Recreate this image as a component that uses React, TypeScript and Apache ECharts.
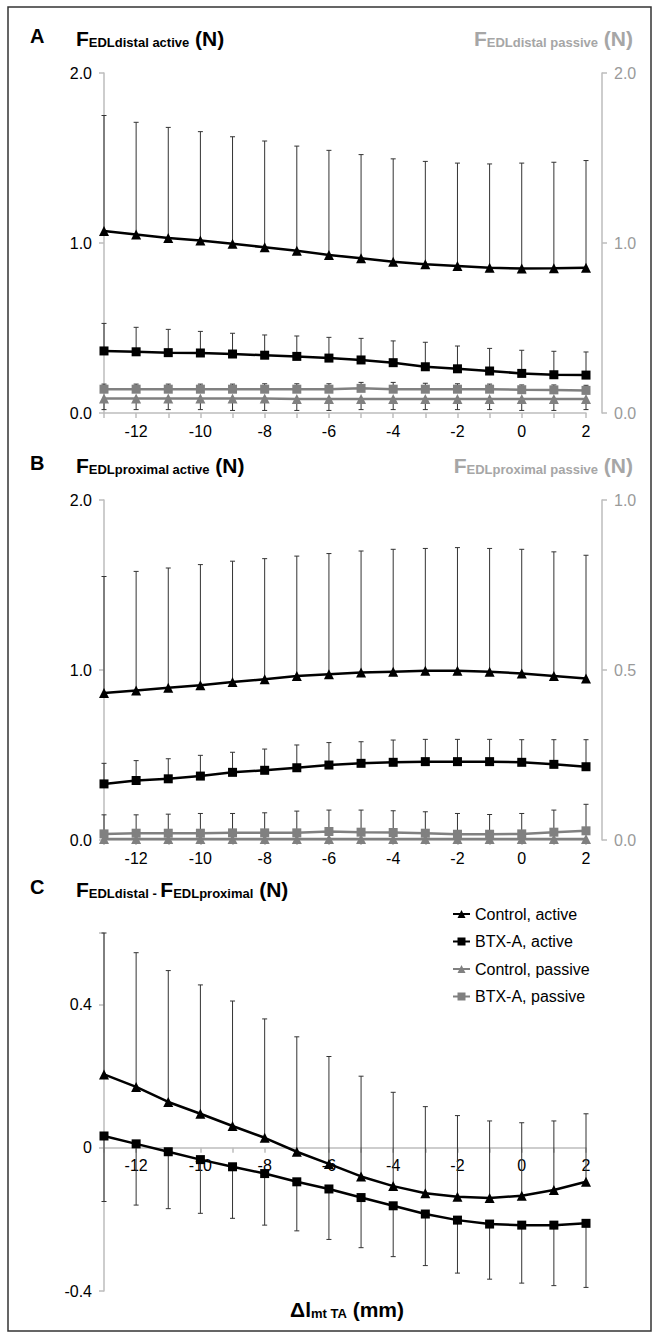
import React, { useEffect, useRef } from "react";
import * as echarts from "echarts";

// ---------- data ----------
const xValues = [-13, -12, -11, -10, -9, -8, -7, -6, -5, -4, -3, -2, -1, 0, 1, 2];
const xTickLabels = [-12, -10, -8, -6, -4, -2, 0, 2];
const legendNames = ["Control, active", "BTX-A, active", "Control, passive", "BTX-A, passive"];

// Panel A : F EDL distal
const aControlActive = [1.07, 1.05, 1.03, 1.015, 0.995, 0.975, 0.955, 0.93, 0.91, 0.89, 0.875, 0.865, 0.855, 0.85, 0.852, 0.855];
const aControlActiveUpper = [1.75, 1.71, 1.68, 1.655, 1.625, 1.6, 1.57, 1.545, 1.52, 1.495, 1.48, 1.47, 1.465, 1.47, 1.475, 1.485];
const aBtxActive = [0.365, 0.36, 0.355, 0.353, 0.347, 0.34, 0.333, 0.323, 0.312, 0.296, 0.272, 0.26, 0.247, 0.233, 0.225, 0.223];
const aBtxActiveUpper = [0.527, 0.504, 0.492, 0.48, 0.469, 0.459, 0.453, 0.445, 0.439, 0.424, 0.416, 0.394, 0.38, 0.369, 0.363, 0.359];
const aControlPassive = [0.085, 0.085, 0.085, 0.085, 0.085, 0.085, 0.083, 0.083, 0.083, 0.083, 0.083, 0.083, 0.083, 0.083, 0.083, 0.083];
const aControlPassiveLower = [0.02, 0.02, 0.02, 0.02, 0.015, 0.015, 0.015, 0.015, 0.02, 0.02, 0.02, 0.02, 0.02, 0.015, 0.015, 0.02];
const aBtxPassive = [0.14, 0.14, 0.14, 0.14, 0.14, 0.14, 0.14, 0.14, 0.145, 0.14, 0.14, 0.14, 0.14, 0.137, 0.136, 0.133];
const aBtxPassiveUpper = [0.17, 0.17, 0.17, 0.17, 0.17, 0.172, 0.172, 0.172, 0.18, 0.18, 0.175, 0.172, 0.17, 0.165, 0.165, 0.163];
const aLeftTicks = [0, 1, 2];
const aRightTicks = [0, 1, 2];

// Panel B : F EDL proximal
const bControlActive = [0.865, 0.88, 0.895, 0.91, 0.93, 0.945, 0.965, 0.975, 0.985, 0.99, 0.995, 0.995, 0.99, 0.98, 0.965, 0.95];
const bControlActiveUpper = [1.55, 1.58, 1.6, 1.62, 1.64, 1.655, 1.67, 1.685, 1.7, 1.71, 1.715, 1.72, 1.715, 1.71, 1.695, 1.675];
const bBtxActive = [0.33, 0.35, 0.36, 0.376, 0.398, 0.41, 0.425, 0.441, 0.451, 0.457, 0.461, 0.461, 0.461, 0.457, 0.445, 0.431];
const bBtxActiveUpper = [0.451, 0.467, 0.478, 0.498, 0.516, 0.535, 0.559, 0.573, 0.578, 0.588, 0.592, 0.592, 0.592, 0.59, 0.59, 0.59];
const bControlPassive = [0.003, 0.003, 0.003, 0.003, 0.003, 0.003, 0.003, 0.003, 0.003, 0.003, 0.003, 0.003, 0.003, 0.003, 0.003, 0.003];
const bBtxPassive = [0.018, 0.02, 0.02, 0.02, 0.021, 0.021, 0.021, 0.025, 0.023, 0.022, 0.02, 0.017, 0.017, 0.018, 0.023, 0.027];
const bBtxPassiveUpper = [0.074, 0.074, 0.076, 0.078, 0.078, 0.08, 0.085, 0.088, 0.088, 0.086, 0.083, 0.078, 0.075, 0.078, 0.088, 0.105];
const bLeftTicks = [0, 1, 2];
const bRightTicks = [0, 0.5, 1];

// Panel C : F EDL distal - F EDL proximal
const cControlActive = [0.205, 0.17, 0.128, 0.095, 0.061, 0.028, -0.011, -0.045, -0.08, -0.107, -0.127, -0.137, -0.14, -0.134, -0.118, -0.095];
const cControlActiveUpper = [0.6, 0.545, 0.495, 0.455, 0.41, 0.36, 0.31, 0.255, 0.2, 0.155, 0.115, 0.09, 0.075, 0.07, 0.075, 0.095];
const cBtxActive = [0.033, 0.011, -0.011, -0.033, -0.053, -0.072, -0.095, -0.115, -0.139, -0.162, -0.185, -0.202, -0.213, -0.216, -0.216, -0.211];
const cBtxActiveLower = [-0.15, -0.16, -0.17, -0.183, -0.197, -0.216, -0.232, -0.256, -0.279, -0.304, -0.329, -0.35, -0.367, -0.378, -0.385, -0.39];
const cTicks = [-0.4, 0, 0.4];
const cMin = -0.4;
const cMax = 0.6;

// ---------- styling ----------
const SANS = '"Liberation Sans", Arial, Helvetica, sans-serif';
const AXIS_GRAY = "#bdbdbd";
const BLACK = "#000000";
const GRAY = "#808080";
const ERR = "#333333";
const C_TOP = 933;
const C_HEIGHT = 358;

function errRender(params: any, api: any) {
  const x = api.value(0);
  const p0 = api.coord([x, api.value(1)]);
  const p1 = api.coord([x, api.value(2)]);
  const st = { stroke: ERR, lineWidth: 1 };
  return {
    type: "group",
    children: [
      { type: "line", shape: { x1: p0[0], y1: p0[1], x2: p1[0], y2: p1[1] }, style: st },
      { type: "line", shape: { x1: p1[0] - 2.5, y1: p1[1], x2: p1[0] + 2.5, y2: p1[1] }, style: st },
    ],
  };
}

function lineSeries(name: string, xi: number, yi: number, values: number[], color: string, symbol: string) {
  return {
    type: "line",
    name,
    xAxisIndex: xi,
    yAxisIndex: yi,
    data: xValues.map((x, i) => [x, values[i]]),
    symbol,
    symbolSize: symbol === "triangle" ? 10 : 9,
    lineStyle: { color, width: 2.5 },
    itemStyle: { color },
    z: 3,
  };
}

function errSeries(xi: number, yi: number, base: number[], end: number[]) {
  return {
    type: "custom",
    xAxisIndex: xi,
    yAxisIndex: yi,
    data: xValues.map((x, i) => [x, base[i], end[i]]),
    encode: { x: 0, y: [1, 2] },
    renderItem: errRender,
    silent: true,
    z: 2,
  };
}

function xAxis(gi: number, offset: number) {
  return {
    type: "value",
    gridIndex: gi,
    position: "bottom",
    offset,
    min: -13,
    max: 2,
    interval: 1,
    axisLine: { show: true, onZero: false, lineStyle: { color: AXIS_GRAY, width: 1.5 } },
    axisTick: { show: true, length: 5, lineStyle: { color: AXIS_GRAY, width: 1.5 } },
    axisLabel: {
      margin: 10,
      color: BLACK,
      fontSize: 16,
      fontFamily: SANS,
      formatter: (v: number) => (xTickLabels.indexOf(Math.round(v)) >= 0 ? String(Math.round(v)) : ""),
    },
    splitLine: { show: false },
  };
}

function yAxis(gi: number, position: string, min: number, max: number, interval: number, ticks: number[], color: string, fmt: (v: number) => string, offset = 0) {
  return {
    type: "value",
    gridIndex: gi,
    position,
    offset,
    min,
    max,
    interval,
    axisLine: { show: true, onZero: false, lineStyle: { color: AXIS_GRAY, width: 1.5 } },
    axisTick: { show: true, length: 5, lineStyle: { color: AXIS_GRAY, width: 1.5 } },
    axisLabel: {
      margin: 12,
      color,
      fontSize: 16,
      fontFamily: SANS,
      formatter: (v: number) => (ticks.some((t) => Math.abs(t - v) < 1e-9) ? fmt(v) : ""),
    },
    splitLine: { show: false },
  };
}

function richStyle(color: string) {
  return {
    b: { fontSize: 21, fontWeight: "bold", fontFamily: SANS, fill: color, lineHeight: 26, verticalAlign: "bottom" },
    s: { fontSize: 13, fontWeight: "bold", fontFamily: SANS, fill: color, lineHeight: 12, verticalAlign: "bottom" },
  };
}

function titleText(text: string, x: number, y: number, color: string, align = "left") {
  return {
    type: "text",
    x,
    y,
    silent: true,
    style: { text, align, verticalAlign: "middle", rich: richStyle(color), fill: color },
  };
}

function letter(t: string, y: number) {
  return {
    type: "text",
    x: 30,
    y,
    silent: true,
    style: { text: t, font: `bold 20px ${SANS}`, fill: BLACK, align: "left", verticalAlign: "middle" },
  };
}

const f1 = (v: number) => v.toFixed(1);
const fC = (v: number) => (Math.abs(v) < 1e-9 ? "0" : v.toFixed(1));

export default function App() {
  const ref = useRef<HTMLDivElement>(null);
  useEffect(() => {
    if (!ref.current) return;
    const chart = echarts.init(ref.current, undefined, { renderer: "svg" });
    // place panel C's x axis on the zero line (distance from grid bottom to y = 0)
    const zeroOffset = -(C_HEIGHT * (0 - cMin)) / (cMax - cMin);
    const option: any = {
      animation: false,
      backgroundColor: "#ffffff",
      grid: [
        { left: 104, width: 482, top: 73, height: 340 },
        { left: 104, width: 482, top: 500, height: 340 },
        { left: 104, width: 482, top: C_TOP, height: C_HEIGHT },
      ],
      xAxis: [xAxis(0, 0), xAxis(1, 0), xAxis(2, zeroOffset)],
      yAxis: [
        yAxis(0, "left", 0, 2, 1, aLeftTicks, BLACK, f1),
        yAxis(0, "right", 0, 2, 1, aRightTicks, "#9a9a9a", f1, 16),
        yAxis(1, "left", 0, 2, 1, bLeftTicks, BLACK, f1),
        yAxis(1, "right", 0, 1, 0.5, bRightTicks, "#9a9a9a", f1, 16),
        yAxis(2, "left", cMin, cMax, 0.4, cTicks, BLACK, fC),
      ],
      legend: {
        data: legendNames,
        orient: "vertical",
        left: 447,
        top: 900,
        itemWidth: 17,
        itemHeight: 10,
        itemGap: 9.5,
        selectedMode: false,
        textStyle: { fontSize: 16, color: BLACK, fontFamily: SANS, lineHeight: 18 },
      },
      series: [
        // Panel A
        errSeries(0, 0, aControlActive, aControlActiveUpper),
        errSeries(0, 0, aBtxActive, aBtxActiveUpper),
        errSeries(0, 1, aControlPassive, aControlPassiveLower),
        errSeries(0, 1, aBtxPassive, aBtxPassiveUpper),
        lineSeries("Control, passive", 0, 1, aControlPassive, GRAY, "triangle"),
        lineSeries("BTX-A, passive", 0, 1, aBtxPassive, GRAY, "rect"),
        lineSeries("Control, active", 0, 0, aControlActive, BLACK, "triangle"),
        lineSeries("BTX-A, active", 0, 0, aBtxActive, BLACK, "rect"),
        // Panel B
        errSeries(1, 2, bControlActive, bControlActiveUpper),
        errSeries(1, 2, bBtxActive, bBtxActiveUpper),
        errSeries(1, 3, bBtxPassive, bBtxPassiveUpper),
        lineSeries("Control, passive", 1, 3, bControlPassive, GRAY, "triangle"),
        lineSeries("BTX-A, passive", 1, 3, bBtxPassive, GRAY, "rect"),
        lineSeries("Control, active", 1, 2, bControlActive, BLACK, "triangle"),
        lineSeries("BTX-A, active", 1, 2, bBtxActive, BLACK, "rect"),
        // Panel C
        errSeries(2, 4, cControlActive, cControlActiveUpper),
        errSeries(2, 4, cBtxActive, cBtxActiveLower),
        lineSeries("Control, active", 2, 4, cControlActive, BLACK, "triangle"),
        lineSeries("BTX-A, active", 2, 4, cBtxActive, BLACK, "rect"),
      ],
      graphic: [
        {
          type: "rect",
          silent: true,
          shape: { x: 8, y: 7, width: 643, height: 1324 },
          style: { fill: "none", stroke: "#333333", lineWidth: 1.5 },
        },
        letter("A", 36),
        titleText("{b|F}{s|EDLdistal active}{b| (N)}", 76, 36, BLACK),
        titleText("{b|F}{s|EDLdistal passive}{b| (N)}", 633, 36, "#a6a6a6", "right"),
        letter("B", 463),
        titleText("{b|F}{s|EDLproximal active}{b| (N)}", 76, 463, BLACK),
        titleText("{b|F}{s|EDLproximal passive}{b| (N)}", 633, 463, "#a6a6a6", "right"),
        letter("C", 887),
        titleText("{b|F}{s|EDLdistal - }{b|F}{s|EDLproximal}{b| (N)}", 76, 887, BLACK),
        titleText("{b|Δl}{s|mt TA}{b| (mm)}", 347, 1307, BLACK, "center"),
      ],
    };
    chart.setOption(option);
    return () => chart.dispose();
  }, []);
  return <div ref={ref} style={{ position: "absolute", left: 0, top: 0, width: 659, height: 1334 }} />;
}
